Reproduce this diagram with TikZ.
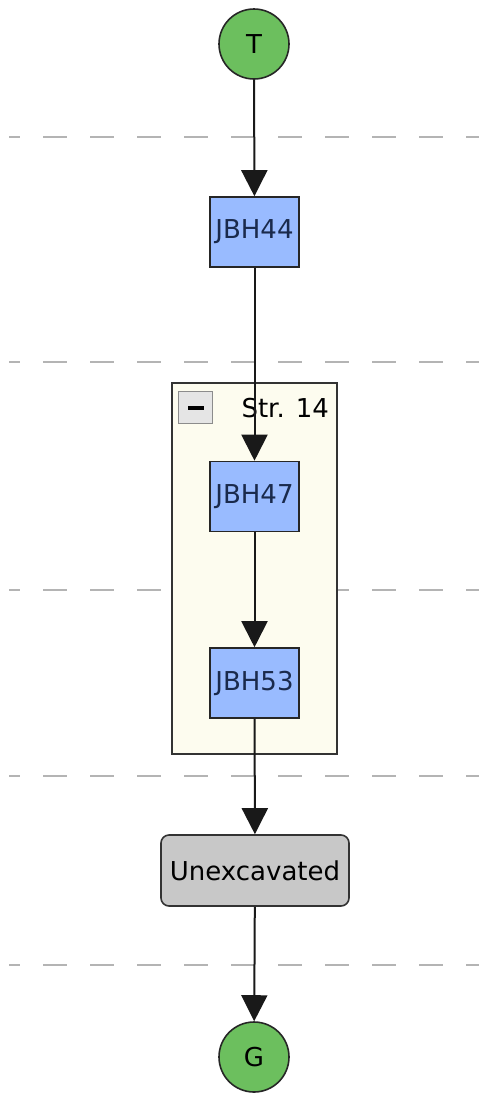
\documentclass[tikz,border=0pt]{standalone}
\usepackage{fontspec}
\setmainfont{DejaVu Sans}
\usetikzlibrary{arrows.meta}

\definecolor{termgreen}{HTML}{6CBF5E}
\definecolor{unitblue}{HTML}{99BBFF}
\definecolor{unittext}{HTML}{1A2A4C}
\definecolor{groupfill}{HTML}{FDFCEF}
\definecolor{leftgray}{HTML}{C8C8C8}
\definecolor{layergray}{HTML}{B4B4B4}

\tikzset{
  lbl/.style={font=\fontsize{26}{26}\selectfont},
  terminal/.style={lbl, circle, draw=black!85, line width=1.6pt, fill=termgreen, minimum size=70pt, inner sep=0pt},
  unitbox/.style={lbl, rectangle, draw=black!85, line width=1.6pt, fill=unitblue, text=unittext, minimum width=89pt, minimum height=70pt, inner sep=0pt},
  restbox/.style={lbl, rectangle, rounded corners=8pt, draw=black!80, line width=1.6pt, fill=leftgray, minimum width=188pt, minimum height=71pt, inner sep=0pt},
  groupbox/.style={rectangle, draw=black!80, line width=1.6pt, fill=groupfill, minimum width=165pt, minimum height=371pt, inner sep=0pt},
  layer/.style={draw=layergray, line width=1.8pt, dash pattern=on 24pt off 23pt, dash phase=13pt},
  flow/.style={draw=black!90, line width=2pt, -{Triangle[length=26pt,width=26pt]}}
}

\begin{document}
\begin{tikzpicture}[x=1pt,y=-1pt]
    \useasboundingbox (0,0) rectangle (479,1095);

    % layer separators
    \foreach \ly in {137,362,590,776,965}
        \draw[layer] (9,\ly) -- (479,\ly);

    % group
    \node[groupbox] (str14) at (254.5,568.5) {};
    \node[rectangle, draw=black!45, line width=1.2pt, fill=black!10, minimum width=34pt, minimum height=32pt, inner sep=0pt] (toggle) at (195.5,407.5) {};
    \draw[line width=3.5pt] (188,408) -- (204,408);
    \node[lbl, anchor=west] (str14title) at (238,408) {Str. 14};

    % nodes
    \node[terminal] (T) at (254,44) {T};
    \node[unitbox] (jbh44) at (254.5,232) {JBH44};
    \node[unitbox] (jbh47) at (254.5,496.5) {JBH47};
    \node[unitbox] (jbh53) at (254.5,683) {JBH53};
    \node[restbox] (unexc) at (255,870.5) {Unexcavated};
    \node[terminal] (G) at (254,1057) {G};

    % edges
    \draw[flow] (T) -- (jbh44);
    \draw[flow] (jbh44) -- (jbh47);
    \draw[flow] (jbh47) -- (jbh53);
    \draw[flow] (jbh53) -- (unexc);
    \draw[flow] (unexc) -- (G);
\end{tikzpicture}
\end{document}
